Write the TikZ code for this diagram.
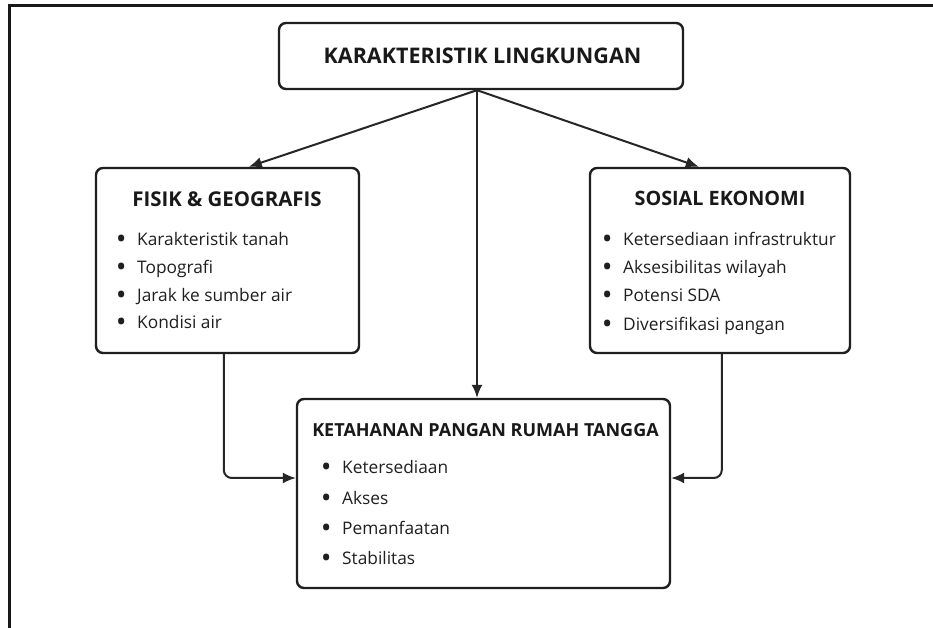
\documentclass[tikz,border=0pt]{standalone}
\usepackage{fontspec}
\setmainfont{Open Sans}
\usetikzlibrary{arrows.meta}
\begin{document}
\begin{tikzpicture}[x=1pt,y=1pt,
  box/.style={draw=black!88, line width=2.4pt, rounded corners=7pt, fill=white},
  arr/.style={draw=black!85, line width=2pt, -{Latex[length=13pt,width=11pt]}},
  hd/.style={text=black!90, inner sep=0pt},
  itm/.style={font=\fontsize{17.3}{20}\selectfont, text=black!88, anchor=mid west, inner sep=0pt}
]
\useasboundingbox (0,0) rectangle (933,628);
\fill[white] (0,0) rectangle (933,628);
% frame
\draw[line width=3pt, black!90] (9,0) -- (9,622) -- (933,622);
% boxes
\node[box, minimum width=404pt, minimum height=66pt] (top) at (481,572) {};
\node[box, minimum width=263pt, minimum height=185pt] (fisik) at (227.5,367.5) {};
\node[box, minimum width=260pt, minimum height=185pt] (sosial) at (720,367.5) {};
\node[box, minimum width=373pt, minimum height=189pt] (keta) at (483.5,134.5) {};
% headings
\node[hd, font=\fontsize{21.5}{24}\selectfont\bfseries] (tt) at (482.5,572.5) {KARAKTERISTIK LINGKUNGAN};
\node[hd, font=\fontsize{20.4}{24}\selectfont\bfseries] (fh) at (227,428.5) {FISIK \& GEOGRAFIS};
\node[hd, font=\fontsize{19.8}{24}\selectfont\bfseries] (sh) at (720,429.5) {SOSIAL EKONOMI};
\node[hd, font=\fontsize{18}{24}\selectfont\bfseries] (kh) at (485.5,197.5) {KETAHANAN PANGAN RUMAH TANGGA};
% items
\newcommand{\bul}[1]{\rlap{\raisebox{-0.6pt}{\fontsize{22}{22}\selectfont\bfseries •}}\hspace{20pt}#1}
\node[itm] (f1) at (117,385) {\bul{Karakteristik tanah}};
\node[itm] (f2) at (117,357) {\bul{Topografi}};
\node[itm] (f3) at (117,329) {\bul{Jarak ke sumber air}};
\node[itm] (f4) at (117,302) {\bul{Kondisi air}};
\node[itm] (s1) at (603,385) {\bul{Ketersediaan infrastruktur}};
\node[itm] (s2) at (603,357) {\bul{Aksesibilitas wilayah}};
\node[itm] (s3) at (603,329) {\bul{Potensi SDA}};
\node[itm] (s4) at (603,300) {\bul{Diversifikasi pangan}};
\node[itm] (k1) at (322,157) {\bul{Ketersediaan}};
\node[itm] (k2) at (322,126) {\bul{Akses}};
\node[itm] (k3) at (322,96) {\bul{Pemanfaatan}};
\node[itm] (k4) at (322,66) {\bul{Stabilitas}};
% arrows
\coordinate (o) at ([xshift=-4pt]top.south);
\draw[arr] (o) -- ([xshift=154pt]fisik.north west);
\draw[arr] (o) -- ([xshift=110pt]sosial.north west);
\draw[arr] (o) -- (o |- keta.north);
\draw[arr, rounded corners=8pt] ([xshift=129pt]fisik.south west) |- ([yshift=15.5pt]keta.west);
\draw[arr, rounded corners=8pt] ([xshift=133pt]sosial.south west) |- ([yshift=15.5pt]keta.east);
\end{tikzpicture}
\end{document}
